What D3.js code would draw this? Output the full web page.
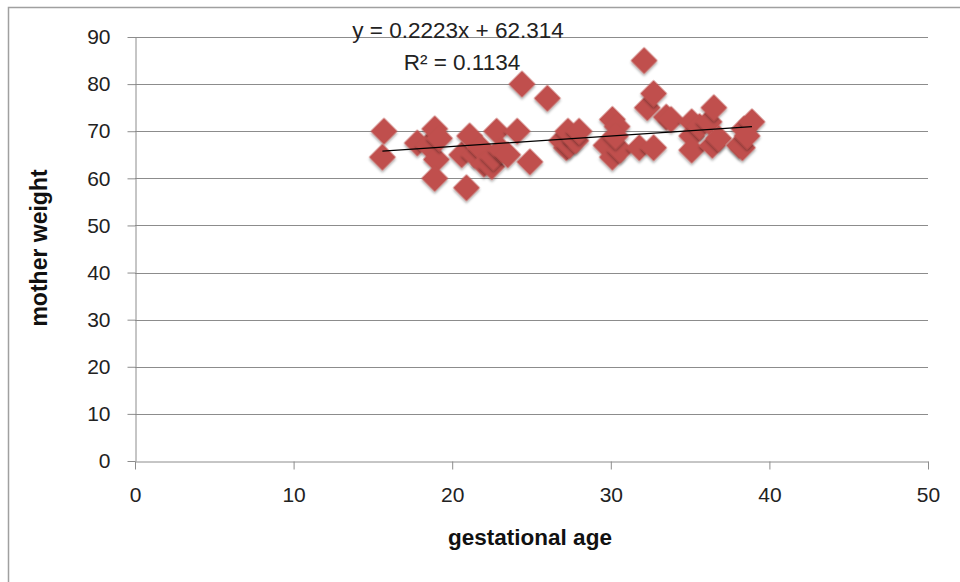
<!DOCTYPE html>
<html><head><meta charset="utf-8">
<script src="https://cdn.jsdelivr.net/npm/d3@7"></script>
<style>body{margin:0;background:#fff}svg{display:block}</style>
</head><body>
<script>
const gestAge = [15.7,15.6,17.8,18.5,18.9,19.0,18.9,19.2,20.9,20.6,21.1,21.4,21.8,22.0,22.5,22.8,22.6,23.1,23.5,24.1,24.4,24.9,26.0,
  26.9,27.2,27.4,27.3,27.8,28.0,29.7,30.1,30.4,30.1,30.6,30.3,
  31.8,32.1,32.3,32.7,32.7,33.5,33.8,35.1,35.1,35.1,35.6,36.2,36.5,36.4,36.8,38.1,38.3,38.4,38.9,38.6];
const motherWeight = [70,64.5,67.5,67,70.5,64,60,68.5,58,65,69,65,66.5,63,62.5,70,64.5,66,65,70,80,63.5,77,
  68,66.5,67,70,68,70,67,72.5,71,64.5,66,69,
  66.5,85,75,78,66.5,73,72.5,72,69,66,71,72,75,67,68.5,67,66.5,70.5,72,69];
const xTicks = [0,10,20,30,40,50];
const yTicks = [0,10,20,30,40,50,60,70,80,90];
const slope = 0.2223, intercept = 62.314;
const eqText = "y = 0.2223x + 62.314";
const r2Text = "R² = 0.1134";

const W = 960, H = 582;
const svg = d3.select("body").append("svg").attr("width", W).attr("height", H);
const font = "'Liberation Sans', Arial, sans-serif";

svg.append("rect").attr("x",8.5).attr("y",7.5).attr("width",W+10).attr("height",H+10)
  .attr("fill","none").attr("stroke","#a0a0a0").attr("stroke-width",1.5);

const x = d3.scaleLinear().domain([0,50]).range([135,928]);
const y = d3.scaleLinear().domain([0,90]).range([461,37]);

svg.append("g").selectAll("line").data(yTicks.filter(d=>d>0)).join("line")
  .attr("x1",x(0)).attr("x2",x(50)).attr("y1",d=>Math.round(y(d))+0.5).attr("y2",d=>Math.round(y(d))+0.5)
  .attr("stroke","#8c8c8c").attr("stroke-width",1);

const yAxis = svg.append("g").attr("transform",`translate(${x(0)+0.5},0)`)
  .call(d3.axisLeft(y).tickValues(yTicks).tickSize(8).tickPadding(17).tickSizeOuter(0));
const xAxis = svg.append("g").attr("transform",`translate(0,${Math.round(y(0))+0.5})`)
  .call(d3.axisBottom(x).tickValues(xTicks).tickSize(8).tickPadding(18).tickSizeOuter(0));
[yAxis,xAxis].forEach(a=>{
  a.selectAll("path,line").attr("stroke","#8c8c8c");
  a.selectAll("text").attr("font-family",font).attr("font-size",21).attr("fill","#222");
});

const defs = svg.append("defs");
const f = defs.append("filter").attr("id","sh").attr("x","-50%").attr("y","-50%").attr("width","200%").attr("height","200%");
f.append("feDropShadow").attr("dx",1.5).attr("dy",1.5).attr("stdDeviation",1.2).attr("flood-color","#000").attr("flood-opacity",0.35);

const sym = d3.symbol().type(d3.symbolSquare).size(360);
svg.append("g").selectAll("path").data(gestAge.map((g,i)=>[g,motherWeight[i]])).join("path")
  .attr("d",sym)
  .attr("transform",d=>`translate(${x(d[0])},${y(d[1])}) rotate(45)`)
  .attr("fill","#C0504D").attr("filter","url(#sh)");

const xmin = d3.min(gestAge), xmax = d3.max(gestAge);
svg.append("line").attr("x1",x(xmin)).attr("y1",y(slope*xmin+intercept))
  .attr("x2",x(xmax)).attr("y2",y(slope*xmax+intercept))
  .attr("stroke","#000").attr("stroke-width",1.3);

svg.append("text").attr("x",458).attr("y",38).attr("text-anchor","middle")
  .attr("font-family",font).attr("font-size",22.5).attr("fill","#222").text(eqText);
svg.append("text").attr("x",462).attr("y",70).attr("text-anchor","middle")
  .attr("font-family",font).attr("font-size",22.5).attr("fill","#222").text(r2Text);

svg.append("text").attr("x",530).attr("y",545).attr("text-anchor","middle")
  .attr("font-family",font).attr("font-size",22.5).attr("font-weight","bold").attr("fill","#111").text("gestational age");
svg.append("text").attr("transform","translate(47,248) rotate(-90)").attr("text-anchor","middle")
  .attr("font-family",font).attr("font-size",23).attr("font-weight","bold").attr("fill","#111").text("mother weight");
</script>
</body></html>
